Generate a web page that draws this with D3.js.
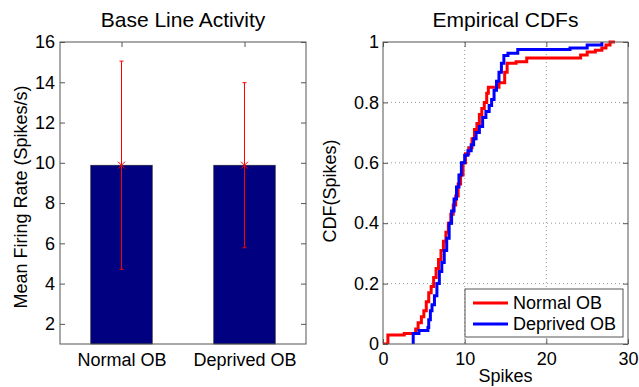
<!DOCTYPE html>
<html lang='en'>
  <head>
    <style type='text/css'>
      body {margin: 0; background-color: #fff;}
      svg text {font-family: 'Liberation Sans', Arial, sans-serif; fill: #000;}
    </style>
  </head>
  <body>
    <svg id='chart' width='639' height='387'></svg>

    <script src='https://d3js.org/d3.v7.min.js'></script>
    <script type='text/javascript'>
        // ---- data ----
        var categories = ["Normal OB", "Deprived OB"];
        var meanRate   = [9.88, 9.88];
        var rateError  = [5.17, 4.1];
        var rateTicks  = [2, 4, 6, 8, 10, 12, 14, 16];

        // empirical CDF steps: [spikes, cdf]
        var normalCdf = [[0, 0], [0.6, 0.03], [2.6, 0.035], [4.0, 0.05], [4.3, 0.07], [4.7, 0.09],
          [5.0, 0.11], [5.3, 0.14], [5.6, 0.17], [5.9, 0.19], [6.2, 0.22], [6.5, 0.25], [6.8, 0.28],
          [7.1, 0.31], [7.4, 0.34], [7.7, 0.37], [8.0, 0.40], [8.3, 0.43], [8.6, 0.46], [8.9, 0.49],
          [9.2, 0.53], [9.5, 0.56], [9.8, 0.60], [10.1, 0.63], [10.5, 0.65], [10.9, 0.68], [11.2, 0.71],
          [11.5, 0.73], [11.8, 0.76], [12.1, 0.78], [12.4, 0.80], [12.7, 0.83], [12.9, 0.85], [14.2, 0.865],
          [14.9, 0.90], [15.2, 0.93], [16.3, 0.935], [17.6, 0.947], [24.2, 0.957], [25.0, 0.967],
          [26.0, 0.973], [26.8, 0.98], [27.3, 0.99], [27.8, 1.0], [28.4, 1.0]];
        var deprivedCdf = [[3.6, 0], [3.7, 0.035], [4.4, 0.045], [5.5, 0.055], [5.6, 0.08], [5.8, 0.11],
          [6.0, 0.13], [6.3, 0.16], [6.6, 0.20], [6.9, 0.24], [7.2, 0.27], [7.5, 0.31], [7.8, 0.35],
          [8.1, 0.40], [8.4, 0.44], [8.7, 0.48], [9.0, 0.52], [9.3, 0.56], [9.6, 0.60], [10.0, 0.625],
          [10.4, 0.64], [10.8, 0.66], [11.1, 0.68], [11.4, 0.70], [11.8, 0.72], [12.2, 0.75], [12.6, 0.77],
          [13.0, 0.79], [13.3, 0.81], [13.6, 0.84], [13.9, 0.87], [14.2, 0.90], [14.5, 0.93], [14.8, 0.955],
          [15.3, 0.963], [16.5, 0.975], [22.9, 0.98], [25.0, 0.99], [26.8, 1.0]];
        var seriesNames  = ["Normal OB", "Deprived OB"];
        var seriesColors = ["#ff0000", "#0000ff"];
        var cdfTicks   = [0, 0.2, 0.4, 0.6, 0.8, 1];
        var spikeTicks = [0, 10, 20, 30];

        var svg = d3.select("#chart");
        var tickFont = "18px", titleFont = "21px";
        var boxColor = "#555";

        // helper: style an axis group (no domain line, gray ticks, big labels)
        function styleAxis(g) {
          g.select(".domain").remove();
          g.selectAll("line").attr("stroke", boxColor);
          g.selectAll("text").attr("font-size", tickFont).attr("font-family", null).attr("fill", "#000");
          g.attr("font-family", null).attr("font-size", null);
        }

        /********** left panel: bars **********/
        var L = {left: 60, right: 306, top: 42, bottom: 344};
        var xCat  = d3.scaleLinear().domain([0.5, 2.5]).range([L.left, L.right]);
        var yRate = d3.scaleLinear().domain([1, 16]).range([L.bottom, L.top]);

        svg.append("g").attr("transform", "translate(" + L.left + ",0)")
          .call(d3.axisLeft(yRate).tickValues(rateTicks).tickSize(-5).tickPadding(5)).call(styleAxis);
        svg.append("g").attr("transform", "translate(" + L.right + ",0)")
          .call(d3.axisRight(yRate).tickValues(rateTicks).tickSize(-5).tickFormat("")).call(styleAxis);
        svg.append("g").attr("transform", "translate(0," + L.top + ")")
          .call(d3.axisTop(xCat).tickValues([1, 2]).tickSize(-5).tickFormat("")).call(styleAxis);
        svg.append("g").attr("transform", "translate(0," + L.bottom + ")")
          .call(d3.axisBottom(xCat).tickValues([1, 2]).tickSize(-5).tickPadding(9)
            .tickFormat(function(d, i) { return categories[i]; })).call(styleAxis);

        var barHalf = 0.25;
        svg.append("g").selectAll("rect").data(meanRate).enter().append("rect")
          .attr("x", function(d, i) { return xCat(i + 1 - barHalf); })
          .attr("width", function(d, i) { return xCat(i + 1 + barHalf) - xCat(i + 1 - barHalf); })
          .attr("y", function(d) { return yRate(d); })
          .attr("height", function(d) { return yRate(1) - yRate(d); })
          .attr("fill", "#000080")
          .attr("stroke", "#222").attr("stroke-width", 0.6);

        // error bars
        var err = svg.append("g").attr("stroke", "#ff0000").attr("stroke-width", 1)
          .selectAll("g").data(meanRate).enter().append("g");
        err.append("line")
          .attr("x1", function(d, i) { return xCat(i + 1); })
          .attr("x2", function(d, i) { return xCat(i + 1); })
          .attr("y1", function(d, i) { return yRate(d + rateError[i]); })
          .attr("y2", function(d, i) { return yRate(d - rateError[i]); });
        [1, -1].forEach(function(s) {
          err.append("line")
            .attr("x1", function(d, i) { return xCat(i + 1) - 2; })
            .attr("x2", function(d, i) { return xCat(i + 1) + 2; })
            .attr("y1", function(d, i) { return yRate(d + s * rateError[i]); })
            .attr("y2", function(d, i) { return yRate(d + s * rateError[i]); });
        });
        err.append("path")
          .attr("d", function(d, i) {
            var cx = xCat(i + 1), cy = yRate(d), r = 3.5;
            return "M" + (cx - r) + "," + (cy - r) + "L" + (cx + r) + "," + (cy + r) +
                   "M" + (cx - r) + "," + (cy + r) + "L" + (cx + r) + "," + (cy - r);
          });

        svg.append("rect").attr("x", L.left).attr("y", L.top)
          .attr("width", L.right - L.left).attr("height", L.bottom - L.top)
          .attr("fill", "none").attr("stroke", boxColor);

        svg.append("text").attr("x", (L.left + L.right) / 2).attr("y", 27)
          .attr("text-anchor", "middle").attr("font-size", titleFont).text("Base Line Activity");
        svg.append("text").attr("transform", "translate(27,197) rotate(-90)")
          .attr("text-anchor", "middle").attr("font-size", tickFont).text("Mean Firing Rate (Spikes/s)");

        /********** right panel: empirical CDFs **********/
        var R = {left: 383, right: 628, top: 42, bottom: 344};
        var xSpk = d3.scaleLinear().domain([0, 30]).range([R.left, R.right]);
        var yCdf = d3.scaleLinear().domain([0, 1]).range([R.bottom, R.top]);

        // dotted grid
        var grid = svg.append("g").attr("stroke", "#999").attr("stroke-dasharray", "1,3");
        grid.selectAll(".gx").data(spikeTicks.slice(1, -1)).enter().append("line")
          .attr("x1", xSpk).attr("x2", xSpk).attr("y1", R.top).attr("y2", R.bottom);
        grid.selectAll(".gy").data(cdfTicks.slice(1, -1)).enter().append("line")
          .attr("y1", yCdf).attr("y2", yCdf).attr("x1", R.left).attr("x2", R.right);

        svg.append("g").attr("transform", "translate(" + R.left + ",0)")
          .call(d3.axisLeft(yCdf).tickValues(cdfTicks).tickSize(-5).tickPadding(4)
            .tickFormat(d3.format("~g"))).call(styleAxis);
        svg.append("g").attr("transform", "translate(" + R.right + ",0)")
          .call(d3.axisRight(yCdf).tickValues(cdfTicks).tickSize(-5).tickFormat("")).call(styleAxis);
        svg.append("g").attr("transform", "translate(0," + R.top + ")")
          .call(d3.axisTop(xSpk).tickValues(spikeTicks).tickSize(-5).tickFormat("")).call(styleAxis);
        svg.append("g").attr("transform", "translate(0," + R.bottom + ")")
          .call(d3.axisBottom(xSpk).tickValues(spikeTicks).tickSize(-5).tickPadding(8)).call(styleAxis);

        svg.append("clipPath").attr("id", "cdfclip").append("rect")
          .attr("x", R.left).attr("y", R.top - 2).attr("width", R.right - R.left).attr("height", R.bottom - R.top + 2);

        var step = d3.line().curve(d3.curveStepAfter)
          .x(function(d) { return xSpk(d[0]); })
          .y(function(d) { return yCdf(d[1]); });

        svg.append("g").attr("clip-path", "url(#cdfclip)")
          .selectAll("path").data([normalCdf, deprivedCdf]).enter().append("path")
          .attr("d", step)
          .attr("fill", "none")
          .attr("stroke", function(d, i) { return seriesColors[i]; })
          .attr("stroke-width", 3);

        svg.append("rect").attr("x", R.left).attr("y", R.top)
          .attr("width", R.right - R.left).attr("height", R.bottom - R.top)
          .attr("fill", "none").attr("stroke", boxColor);

        // legend
        var lg = svg.append("g").attr("transform", "translate(465,289)");
        lg.append("rect").attr("width", 158).attr("height", 48)
          .attr("fill", "#fff").attr("stroke", boxColor);
        var item = lg.selectAll("g").data(seriesNames).enter().append("g")
          .attr("transform", function(d, i) { return "translate(0," + (14 + i * 21) + ")"; });
        item.append("line").attr("x1", 8).attr("x2", 43)
          .attr("stroke", function(d, i) { return seriesColors[i]; }).attr("stroke-width", 3);
        item.append("text").attr("x", 48).attr("dy", "0.35em")
          .attr("font-size", tickFont).text(function(d) { return d; });

        svg.append("text").attr("x", (R.left + R.right) / 2).attr("y", 27)
          .attr("text-anchor", "middle").attr("font-size", titleFont).text("Empirical CDFs");
        svg.append("text").attr("x", (R.left + R.right) / 2).attr("y", 382)
          .attr("text-anchor", "middle").attr("font-size", tickFont).text("Spikes");
        svg.append("text").attr("transform", "translate(336,191) rotate(-90)")
          .attr("text-anchor", "middle").attr("font-size", tickFont).text("CDF(Spikes)");
    </script>
  </body>
</html>
